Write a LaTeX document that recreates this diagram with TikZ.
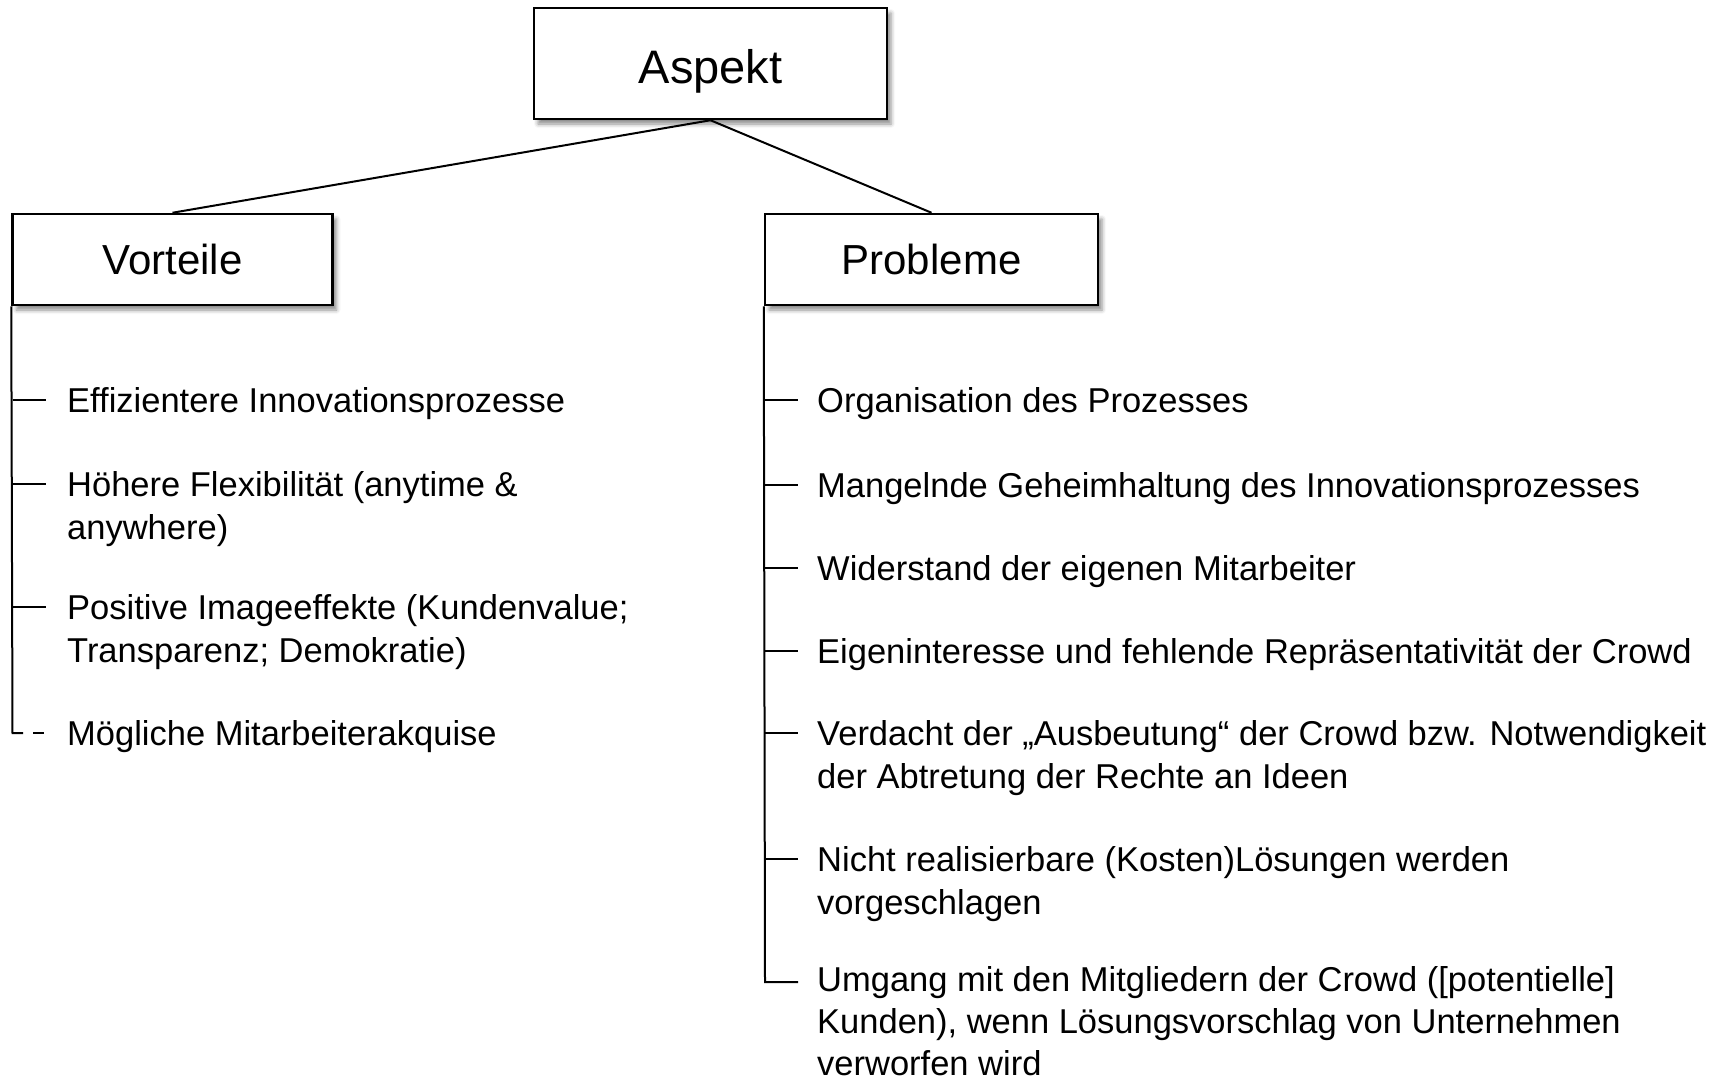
\documentclass[tikz,border=0pt]{standalone}
\usepackage{fontspec}
\setmainfont{Liberation Sans}
\usetikzlibrary{shadows.blur}
\begin{document}
\begin{tikzpicture}[x=1pt,y=-1pt,
  box/.style={draw=black, line width=2.5pt, fill=white, inner sep=0pt,
    blur shadow={shadow xshift=4pt, shadow yshift=-5pt, shadow blur radius=4pt, shadow opacity=45}},
  item/.style={anchor=base west, inner sep=0pt, align=left, font=\fontsize{34.5}{43}\selectfont},
  conn/.style={line width=2pt, black},
]
\useasboundingbox (0,0) rectangle (1724,1081);

\node[box, minimum width=353pt, minimum height=111pt, text height=46pt, text depth=6pt, font=\fontsize{47}{56}\selectfont] (aspekt) at (710.5,63.5) {Aspekt};
\node[box, minimum width=320pt, minimum height=91pt, font=\fontsize{42}{50}\selectfont] (vorteile) at (172.5,259.5) {Vorteile};
\node[box, minimum width=333pt, minimum height=91pt, font=\fontsize{42}{50}\selectfont] (probleme) at (931.5,259.5) {Probleme};

\draw[conn] (aspekt.south) -- (vorteile.north);
\draw[conn] (aspekt.south) -- (probleme.north);

% left items (base anchor = baseline of last line)
\node[item] (v1) at (67,412) {Effizientere Innovationsprozesse};
\node[item] (v2) at (67,539) {Höhere Flexibilität (anytime \&\\anywhere)};
\node[item] (v3) at (67,662) {Positive Imageeffekte (Kundenvalue;\\Transparenz; Demokratie)};
\node[item] (v4) at (67,745) {Mögliche Mitarbeiterakquise};

\coordinate (lk1) at (12.5,400);
\coordinate (lk2) at (12.5,484);
\coordinate (lk3) at (12.5,607);
\coordinate (lk4) at (12.5,733);
\coordinate (lk4a) at (23,733);
\coordinate (lk4b) at (33,733);
\coordinate (lk4c) at (44,733);
\draw[conn] (vorteile.south west) -- (lk4) -- (lk4a);
\draw[conn] (lk4b) -- (lk4c);
\foreach \k in {1,2,3}{\draw[conn] (lk\k) -- ++(33,0);}

% right items
\node[item] (p1) at (817,412) {Organisation des Prozesses};
\node[item] (p2) at (817,497) {Mangelnde Geheimhaltung des Innovationsprozesses};
\node[item] (p3) at (817,580) {Widerstand der eigenen Mitarbeiter};
\node[item] (p4) at (817,663) {Eigeninteresse und fehlende Repräsentativität der Crowd};
\node[item] (p5) at (817,788) {Verdacht der „Ausbeutung“ der Crowd bzw. Notwendigkeit\\der Abtretung der Rechte an Ideen};
\node[item] (p6) at (817,914) {Nicht realisierbare (Kosten)Lösungen werden\\vorgeschlagen};
\node[item, font=\fontsize{34.5}{42}\selectfont] (p7) at (817,1075) {Umgang mit den Mitgliedern der Crowd ([potentielle]\\Kunden), wenn Lösungsvorschlag von Unternehmen\\verworfen wird};

\coordinate (rk1) at (765,400);
\coordinate (rk2) at (765,485);
\coordinate (rk3) at (765,568);
\coordinate (rk4) at (765,651);
\coordinate (rk5) at (765,733);
\coordinate (rk6) at (765,859);
\coordinate (rk7) at (765,982);
\draw[conn] (probleme.south west) -- (rk7) -- ++(33,0);
\foreach \k in {1,...,6}{\draw[conn] (rk\k) -- ++(33,0);}
\end{tikzpicture}
\end{document}
